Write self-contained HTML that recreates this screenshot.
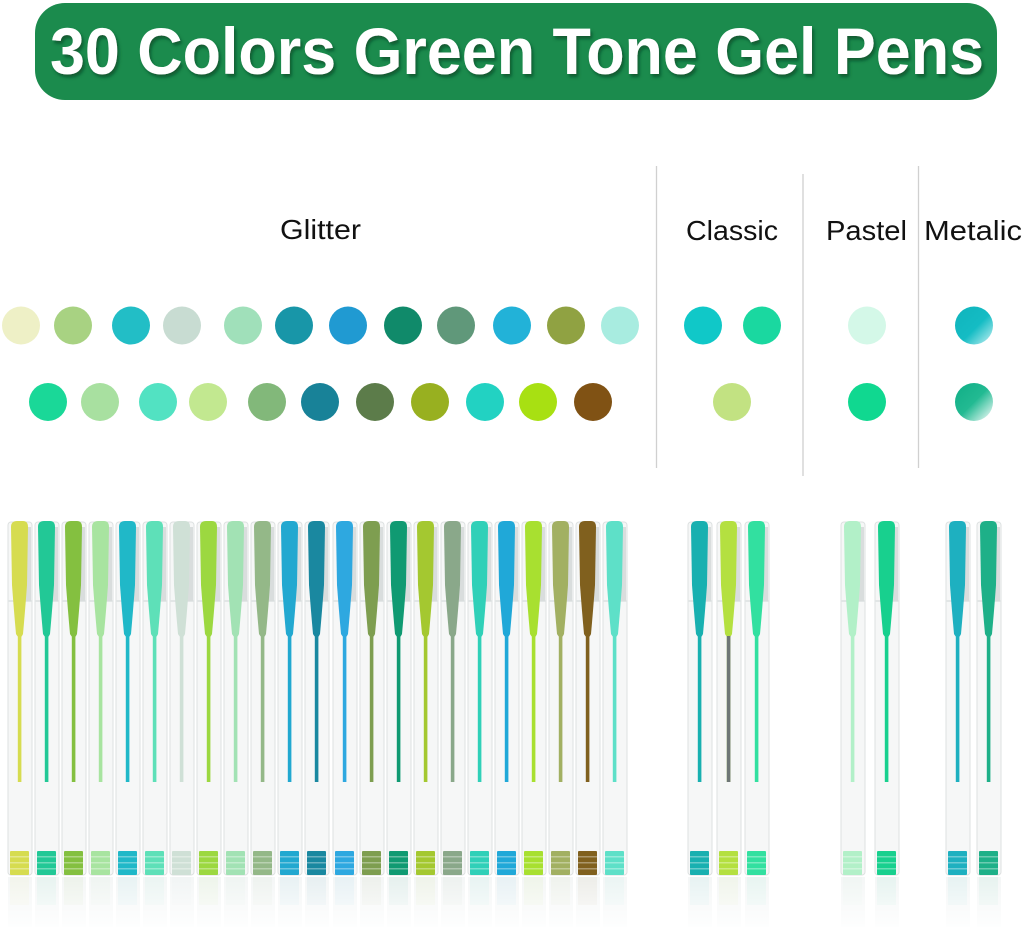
<!DOCTYPE html>
<html><head><meta charset="utf-8"><style>
html,body{margin:0;padding:0;background:#fff;}
svg{display:block;}
text{font-family:"Liberation Sans",sans-serif;}
</style></head><body>
<svg width="1024" height="934" viewBox="0 0 1024 934" xmlns="http://www.w3.org/2000/svg">
<defs>
  <filter id="sh" x="-5%" y="-20%" width="110%" height="150%">
    <feGaussianBlur in="SourceAlpha" stdDeviation="1.5"/>
    <feOffset dx="2" dy="3" result="o"/>
    <feFlood flood-color="#0c4f2a" flood-opacity="0.8"/>
    <feComposite in2="o" operator="in"/>
    <feMerge><feMergeNode/><feMergeNode in="SourceGraphic"/></feMerge>
  </filter>
  <linearGradient id="m1" x1="0" y1="0" x2="1" y2="1">
    <stop offset="0" stop-color="#10b4bc"/><stop offset="0.55" stop-color="#14bcc4"/><stop offset="1" stop-color="#c8f2f4"/>
  </linearGradient>
  <linearGradient id="m2" x1="0" y1="0" x2="1" y2="1">
    <stop offset="0" stop-color="#0fae86"/><stop offset="0.5" stop-color="#22ba92"/><stop offset="1" stop-color="#ffffff"/>
  </linearGradient>
  <linearGradient id="refl" x1="0" y1="0" x2="0" y2="1">
    <stop offset="0" stop-color="#fff" stop-opacity="0"/><stop offset="1" stop-color="#fff" stop-opacity="1"/>
  </linearGradient>
  <g id="pen">
    <rect x="-12" y="522" width="24" height="353" rx="3" fill="#f6f7f7" stroke="#dde1e1" stroke-width="1"/>
    <rect x="-12" y="600" width="24" height="2" fill="#e2e6e6"/>
    <rect x="4" y="527" width="7" height="74" fill="#d9dddd"/>
    <path d="M-9,527 Q-9,521 -3,521 L3,521 Q8,521 8,527 L7,585 Q5,612 3,634 Q0,641 -4,634 Q-6,612 -8,585 Z" fill="currentColor"/>
    <rect x="-2.2" y="630" width="3.6" height="152" fill="currentColor"/>
    <rect x="-10" y="851" width="19" height="24" rx="1" fill="currentColor"/>
    <rect x="-10" y="856" width="19" height="1.5" fill="#fff" opacity="0.35"/>
    <rect x="-10" y="862" width="19" height="1.5" fill="#fff" opacity="0.35"/>
    <rect x="-10" y="868" width="19" height="1.5" fill="#fff" opacity="0.35"/>
    <rect x="-10" y="877" width="19" height="28" fill="currentColor" opacity="0.14"/>
    <rect x="-12" y="877" width="24" height="50" fill="#eef1f1" opacity="0.6"/>
  </g>
</defs>

<!-- header -->
<rect x="35" y="3" width="962" height="97" rx="30" fill="#1b8b4d"/>
<text x="50" y="74" font-size="66" font-weight="bold" fill="#fff" filter="url(#sh)" textLength="934" lengthAdjust="spacingAndGlyphs">30 Colors Green Tone Gel Pens</text>

<!-- dividers -->
<line x1="656.5" y1="166" x2="656.5" y2="468" stroke="#d0d0d0" stroke-width="1.3"/>
<line x1="803" y1="174" x2="803" y2="476" stroke="#d0d0d0" stroke-width="1.3"/>
<line x1="918.5" y1="166" x2="918.5" y2="468" stroke="#d0d0d0" stroke-width="1.3"/>

<!-- labels -->
<g font-size="28" fill="#111">
<text x="280" y="239" textLength="81" lengthAdjust="spacingAndGlyphs">Glitter</text>
<text x="686" y="240" textLength="92" lengthAdjust="spacingAndGlyphs">Classic</text>
<text x="826" y="240" textLength="81" lengthAdjust="spacingAndGlyphs">Pastel</text>
<text x="924" y="240" textLength="98" lengthAdjust="spacingAndGlyphs">Metalic</text>
</g>

<!-- swatches row 1 -->
<g>
<circle cx="21" cy="325.5" r="19" fill="#eef0c6"/>
<circle cx="73" cy="325.5" r="19" fill="#a8d282"/>
<circle cx="131" cy="325.5" r="19" fill="#22bec6"/>
<circle cx="182" cy="325.5" r="19" fill="#c8dcd2"/>
<circle cx="243" cy="325.5" r="19" fill="#a0e0ba"/>
<circle cx="294" cy="325.5" r="19" fill="#1896a8"/>
<circle cx="348" cy="325.5" r="19" fill="#209ad2"/>
<circle cx="403" cy="325.5" r="19" fill="#108a6a"/>
<circle cx="456" cy="325.5" r="19" fill="#60987a"/>
<circle cx="512" cy="325.5" r="19" fill="#22b2d8"/>
<circle cx="566" cy="325.5" r="19" fill="#90a242"/>
<circle cx="620" cy="325.5" r="19" fill="#a8ece0"/>
</g>
<!-- swatches row 2 -->
<g>
<circle cx="48" cy="402" r="19" fill="#1ad898"/>
<circle cx="100" cy="402" r="19" fill="#a8e0a0"/>
<circle cx="158" cy="402" r="19" fill="#52e2c2"/>
<circle cx="208" cy="402" r="19" fill="#c2e890"/>
<circle cx="267" cy="402" r="19" fill="#82b87a"/>
<circle cx="320" cy="402" r="19" fill="#188298"/>
<circle cx="375" cy="402" r="19" fill="#5c7c4a"/>
<circle cx="430" cy="402" r="19" fill="#98b020"/>
<circle cx="485" cy="402" r="19" fill="#22d2c2"/>
<circle cx="538" cy="402" r="19" fill="#a8e012"/>
<circle cx="593" cy="402" r="19" fill="#805214"/>
</g>
<!-- classic / pastel / metalic swatches -->
<circle cx="703" cy="325.5" r="19" fill="#10c8c8"/>
<circle cx="762" cy="325.5" r="19" fill="#1ad8a0"/>
<circle cx="732" cy="402" r="19" fill="#c2e282"/>
<circle cx="867" cy="325.5" r="19" fill="#d4f8e8"/>
<circle cx="867" cy="402" r="19" fill="#10d890"/>
<circle cx="974" cy="325.5" r="19" fill="url(#m1)"/>
<circle cx="974" cy="402" r="19" fill="url(#m2)"/>

<!-- left pens -->
<use href="#pen" x="20" color="#d6dc50"/>
<use href="#pen" x="47" color="#22c896"/>
<use href="#pen" x="74" color="#84c040"/>
<use href="#pen" x="101" color="#a8e4a0"/>
<use href="#pen" x="128" color="#20b8c8"/>
<use href="#pen" x="155" color="#5ee0b8"/>
<use href="#pen" x="182" color="#cfe0d6"/>
<use href="#pen" x="209" color="#9cd840"/>
<use href="#pen" x="236" color="#a2e2b4"/>
<use href="#pen" x="263" color="#94b888"/>
<use href="#pen" x="290" color="#22a8d0"/>
<use href="#pen" x="317" color="#1a88a0"/>
<use href="#pen" x="345" color="#2ea8e0"/>
<use href="#pen" x="372" color="#7e9e50"/>
<use href="#pen" x="399" color="#109a72"/>
<use href="#pen" x="426" color="#a4c830"/>
<use href="#pen" x="453" color="#8aa88a"/>
<use href="#pen" x="480" color="#30d0b8"/>
<use href="#pen" x="507" color="#20a8d8"/>
<use href="#pen" x="534" color="#a8e030"/>
<use href="#pen" x="561" color="#a2b062"/>
<use href="#pen" x="588" color="#80601e"/>
<use href="#pen" x="615" color="#5ee0c8"/>

<!-- right pens -->
<use href="#pen" x="700" color="#18b0b0"/>
<use href="#pen" x="729" color="#b4e040"/>
<rect x="726.8" y="636" width="3.6" height="146" fill="#6e7676"/>
<use href="#pen" x="757" color="#32e0a0"/>
<use href="#pen" x="853" color="#b2f0c8"/>
<use href="#pen" x="887" color="#18d08e"/>
<use href="#pen" x="958" color="#1eb0c0"/>
<use href="#pen" x="989" color="#1eb088"/>

<rect x="0" y="880" width="1024" height="54" fill="url(#refl)"/>
</svg>
</body></html>
